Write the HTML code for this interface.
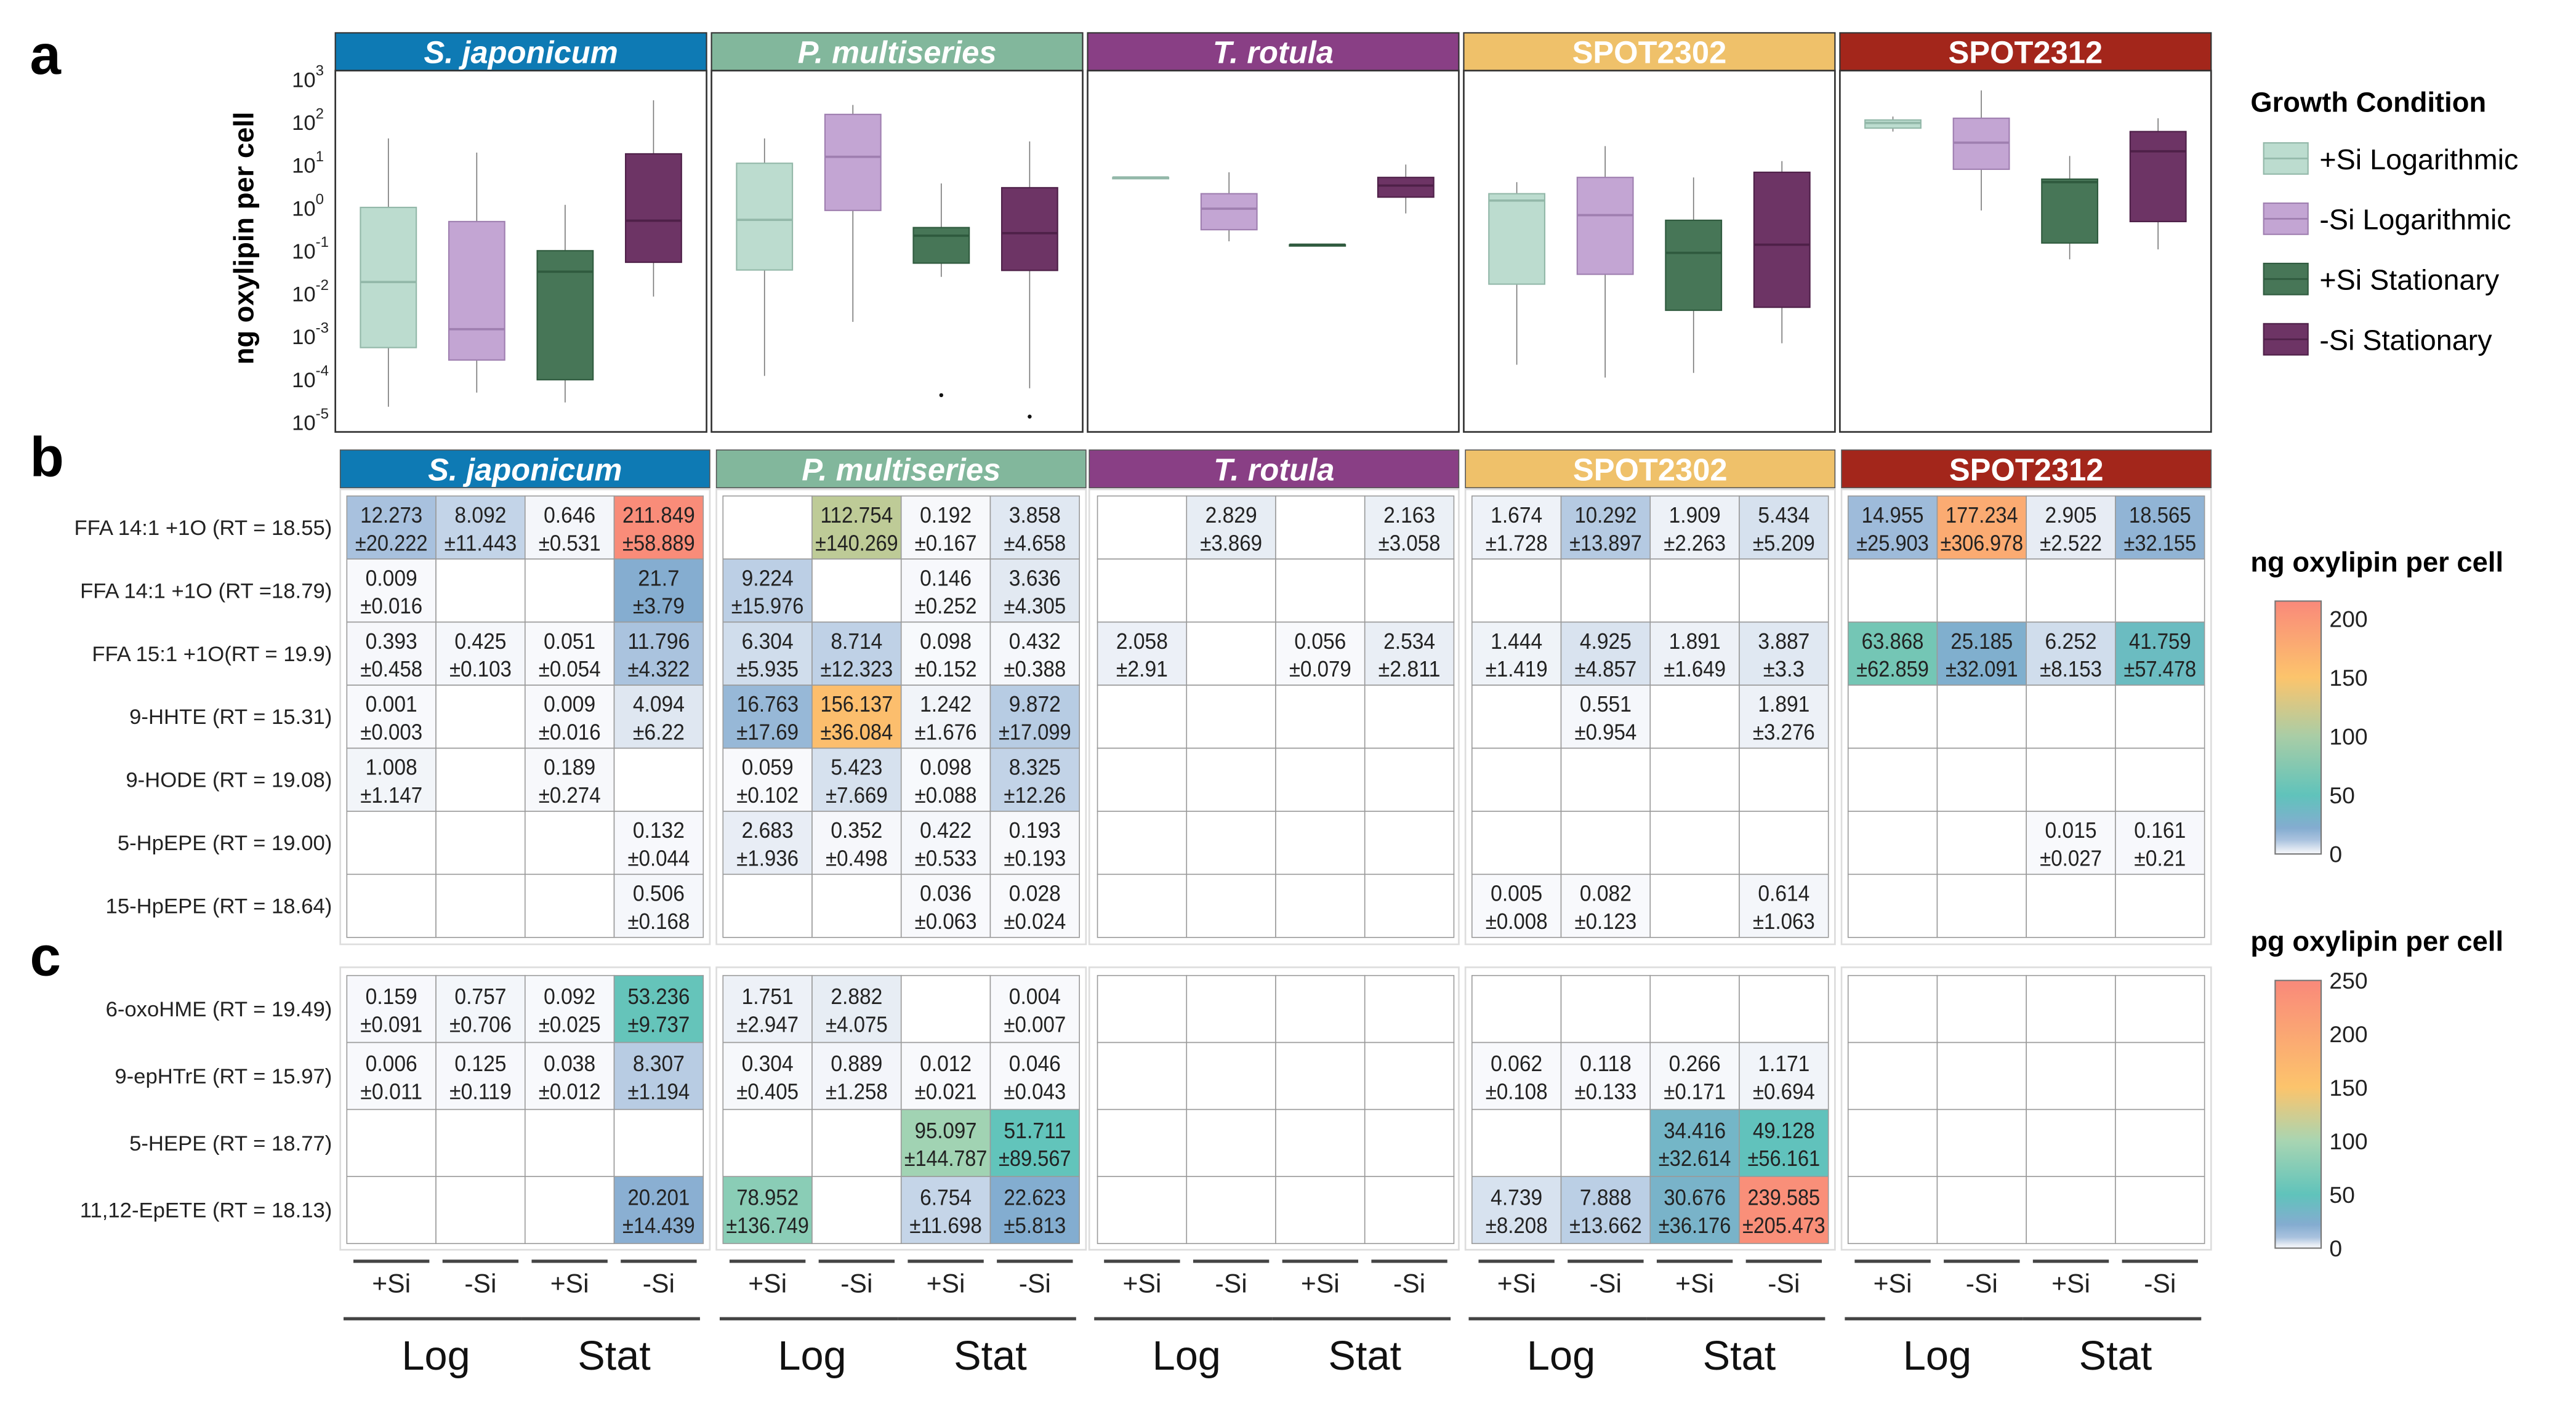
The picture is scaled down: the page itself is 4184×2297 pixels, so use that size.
<!DOCTYPE html>
<html><head><meta charset="utf-8"><style>
html,body{margin:0;padding:0;background:#fff;}
svg{display:block;}
text{font-family:"Liberation Sans",sans-serif;}
</style></head><body>
<svg id="fig" xmlns="http://www.w3.org/2000/svg" width="4184" height="2297" viewBox="0 0 1568 861"></svg>
<script>
// ---------- DATA ----------
const species = ["S. japonicum","P. multiseries","T. rotula","SPOT2302","SPOT2312"];
const speciesItalic = [true,true,true,false,false];
const conditions = ["+Si Logarithmic","-Si Logarithmic","+Si Stationary","-Si Stationary"];
const yTicksLog = [3,2,1,0,-1,-2,-3,-4,-5];
// box stats in log10 units: [lowWhisker, q1, median, q3, highWhisker]
const boxSJ = [[-4.65,-3.27,-1.74,0.0,1.61],[-4.32,-3.56,-2.84,-0.33,1.28],[-4.55,-4.02,-1.50,-1.01,0.06],[-2.08,-1.28,-0.31,1.25,2.50]];
const boxPM = [[-3.93,-1.46,-0.29,1.03,1.61],[-2.67,-0.07,1.18,2.17,2.39],[-1.62,-1.30,-0.66,-0.47,0.56],[-4.22,-1.47,-0.60,0.46,1.54]];
const boxTR = [[0.70,0.70,0.70,0.70,0.70],[-0.79,-0.52,-0.03,0.32,0.82],[-0.87,-0.87,-0.87,-0.87,-0.87],[-0.14,0.24,0.51,0.70,1.0]];
const boxS02 = [[-3.67,-1.79,0.16,0.32,0.59],[-3.97,-1.56,-0.18,0.70,1.43],[-3.86,-2.40,-1.06,-0.30,0.70],[-3.17,-2.33,-0.87,0.82,1.08]];
const boxS12 = [[1.77,1.85,1.97,2.04,2.12],[-0.07,0.89,1.51,2.08,2.73],[-1.21,-0.83,0.59,0.66,1.20],[-0.98,-0.33,1.31,1.77,2.08]];
const outliers = [[1,2,-4.38],[1,3,-4.88]];

const rowsB = ["FFA 14:1 +1O (RT = 18.55)","FFA 14:1 +1O (RT =18.79)","FFA 15:1 +1O(RT = 19.9)","9-HHTE (RT = 15.31)","9-HODE (RT = 19.08)","5-HpEPE (RT = 19.00)","15-HpEPE (RT = 18.64)"];
const meanB = [
 [12.273,8.092,0.646,211.849, null,112.754,0.192,3.858, null,2.829,null,2.163, 1.674,10.292,1.909,5.434, 14.955,177.234,2.905,18.565],
 [0.009,null,null,21.7, 9.224,null,0.146,3.636, null,null,null,null, null,null,null,null, null,null,null,null],
 [0.393,0.425,0.051,11.796, 6.304,8.714,0.098,0.432, 2.058,null,0.056,2.534, 1.444,4.925,1.891,3.887, 63.868,25.185,6.252,41.759],
 [0.001,null,0.009,4.094, 16.763,156.137,1.242,9.872, null,null,null,null, null,0.551,null,1.891, null,null,null,null],
 [1.008,null,0.189,null, 0.059,5.423,0.098,8.325, null,null,null,null, null,null,null,null, null,null,null,null],
 [null,null,null,0.132, 2.683,0.352,0.422,0.193, null,null,null,null, null,null,null,null, null,null,0.015,0.161],
 [null,null,null,0.506, null,null,0.036,0.028, null,null,null,null, 0.005,0.082,null,0.614, null,null,null,null]
];
const sdB = [
 ["20.222","11.443","0.531","58.889", null,"140.269","0.167","4.658", null,"3.869",null,"3.058", "1.728","13.897","2.263","5.209", "25.903","306.978","2.522","32.155"],
 ["0.016",null,null,"3.79", "15.976",null,"0.252","4.305", null,null,null,null, null,null,null,null, null,null,null,null],
 ["0.458","0.103","0.054","4.322", "5.935","12.323","0.152","0.388", "2.91",null,"0.079","2.811", "1.419","4.857","1.649","3.3", "62.859","32.091","8.153","57.478"],
 ["0.003",null,"0.016","6.22", "17.69","36.084","1.676","17.099", null,null,null,null, null,"0.954",null,"3.276", null,null,null,null],
 ["1.147",null,"0.274",null, "0.102","7.669","0.088","12.26", null,null,null,null, null,null,null,null, null,null,null,null],
 [null,null,null,"0.044", "1.936","0.498","0.533","0.193", null,null,null,null, null,null,null,null, null,null,"0.027","0.21"],
 [null,null,null,"0.168", null,null,"0.063","0.024", null,null,null,null, "0.008","0.123",null,"1.063", null,null,null,null]
];
const rowsC = ["6-oxoHME (RT = 19.49)","9-epHTrE (RT = 15.97)","5-HEPE (RT = 18.77)","11,12-EpETE (RT = 18.13)"];
const meanC = [
 [0.159,0.757,0.092,53.236, 1.751,2.882,null,0.004, null,null,null,null, null,null,null,null, null,null,null,null],
 [0.006,0.125,0.038,8.307, 0.304,0.889,0.012,0.046, null,null,null,null, 0.062,0.118,0.266,1.171, null,null,null,null],
 [null,null,null,null, null,null,95.097,51.711, null,null,null,null, null,null,34.416,49.128, null,null,null,null],
 [null,null,null,20.201, 78.952,null,6.754,22.623, null,null,null,null, 4.739,7.888,30.676,239.585, null,null,null,null]
];
const sdC = [
 ["0.091","0.706","0.025","9.737", "2.947","4.075",null,"0.007", null,null,null,null, null,null,null,null, null,null,null,null],
 ["0.011","0.119","0.012","1.194", "0.405","1.258","0.021","0.043", null,null,null,null, "0.108","0.133","0.171","0.694", null,null,null,null],
 [null,null,null,null, null,null,"144.787","89.567", null,null,null,null, null,null,"32.614","56.161", null,null,null,null],
 [null,null,null,"14.439", "136.749",null,"11.698","5.813", null,null,null,null, "8.208","13.662","36.176","205.473", null,null,null,null]
];
const ngTicks = [0,50,100,150,200];
const pgTicks = [0,50,100,150,200,250];
const xTickLabels = ["+Si","-Si","+Si","-Si"];
const phaseLabels = ["Log","Stat"];

// ---------- helpers ----------
const svg = document.getElementById('fig');
const NS = "http://www.w3.org/2000/svg";
function el(tag, attrs, parent){ const e=document.createElementNS(NS,tag); for(const k in attrs) e.setAttribute(k,attrs[k]); (parent||svg).appendChild(e); return e; }
function txt(s, attrs, parent){ const e=el('text',attrs,parent); e.textContent=s; return e; }

const stripColors = ["#0e7ab4","#82b79c","#893f85","#efc16a","#a3261b"];
const boxFill = ["#bcdccf","#c3a5d3","#477657","#6d3465"];
const boxLine = ["#93b8a9","#9f7fb0","#2f5a3e","#4e2048"];

function hex2rgb(h){return [1,3,5].map(i=>parseInt(h.substr(i,2),16));}
function makeScale(stops){ return v=>{ if(v<=stops[0][0]) return stops[0][1];
  for(let i=1;i<stops.length;i++){ if(v<=stops[i][0]){ const t=(v-stops[i-1][0])/(stops[i][0]-stops[i-1][0]); const a=hex2rgb(stops[i-1][1]),b=hex2rgb(stops[i][1]); return 'rgb('+a.map((x,j)=>Math.round(x+(b[j]-x)*t)).join(',')+')'; } }
  return stops[stops.length-1][1]; }; }
const ngStops=[[0,"#f8f9fc"],[3,"#e6ecf4"],[12,"#a9c2de"],[22,"#84acd0"],[50,"#60c3bb"],[100,"#a9cda6"],[150,"#fcc46c"],[215,"#f9897a"]];
const pgStops=[[0,"#f8f9fc"],[3,"#e6ecf4"],[10,"#a9c2de"],[22,"#84acd0"],[50,"#60c3bb"],[100,"#a8d5b2"],[150,"#fcc46c"],[250,"#f9897a"]];
const ngColor=makeScale(ngStops), pgColor=makeScale(pgStops);

// ---------- panel labels ----------
txt('a',{x:18,y:45,'font-size':34,'font-weight':'bold'});
txt('b',{x:18,y:290,'font-size':34,'font-weight':'bold'});
txt('c',{x:18,y:594,'font-size':34,'font-weight':'bold'});

// ---------- panel a ----------
const aPanelsX=[204,433,662,891,1120], aW=226, aTop=43, aBot=263;
const yLog = v => 48+(3-v)*26.1;
const boxes=[boxSJ,boxPM,boxTR,boxS02,boxS12];
const yAxisTitle = txt('ng oxylipin per cell',{x:0,y:0,'font-size':17,'font-weight':'bold','text-anchor':'middle',transform:'translate(154,145) rotate(-90)'});


yTicksLog.forEach(t=>{
  const g=txt('10',{x:192,y:yLog(t)+5,'font-size':13,'text-anchor':'end',fill:'#222'});
  
  
  const s=txt(String(t),{x:192,y:yLog(t)-2,'font-size':9,fill:'#222'});
  
  
});
species.forEach((sp,si)=>{
  const x0=aPanelsX[si];
  const strip=el('rect',{x:x0,y:20,width:aW,height:23,fill:stripColors[si],stroke:'#333','stroke-width':0.8});
  
  
  const st=txt(sp,{x:x0+aW/2,y:38.5,'font-size':19,'font-weight':'bold','font-style':speciesItalic[si]?'italic':'normal',fill:'#fff','text-anchor':'middle'});
  
  
  const fr=el('rect',{x:x0,y:aTop,width:aW,height:aBot-aTop,fill:'#fff',stroke:'#333','stroke-width':1});
  
  
  const xc=i=>x0+(i+1-0.4)/4.2*aW;
  boxes[si].forEach((b,ci)=>{
    const cx=xc(ci), bw=34;
    const wh=el('line',{x1:cx,x2:cx,y1:yLog(b[4]),y2:yLog(b[0]),stroke:'#777','stroke-width':0.6});
    
    
    const r=el('rect',{x:cx-bw/2,y:yLog(b[3]),width:bw,height:Math.max(0.8,yLog(b[1])-yLog(b[3])),fill:boxFill[ci],stroke:boxLine[ci],'stroke-width':0.8});
    
    
    const m=el('line',{x1:cx-bw/2,x2:cx+bw/2,y1:yLog(b[2]),y2:yLog(b[2]),stroke:boxLine[ci],'stroke-width':1.4});
    
    
  });
  outliers.filter(o=>o[0]===si).forEach(o=>{
    const c=el('circle',{cx:xc(o[1]),cy:yLog(o[2]),r:1.2,fill:'#111'});
    
    
  });
});
// legend
txt('Growth Condition',{x:1370,y:68,'font-size':17,'font-weight':'bold'});
conditions.forEach((c,i)=>{
  const y=87+i*36.7;
  const k=el('rect',{x:1378,y:y,width:27,height:19,fill:boxFill[i],stroke:boxLine[i],'stroke-width':0.8});
  
  
  el('line',{x1:1378,x2:1405,y1:y+9.5,y2:y+9.5,stroke:boxLine[i],'stroke-width':1});
  const t=txt(c,{x:1412,y:y+16,'font-size':17.5});
  
  
});

// ---------- heatmaps ----------
const bPanelsX=[207,436,663,892,1121], bW=225;
const gridX=[211,440,668,896,1125], gW=217, cw=gW/4;
species.forEach((sp,si)=>{
  const x0=bPanelsX[si];
  const strip=el('rect',{x:x0,y:274,width:bW,height:23,fill:stripColors[si],stroke:'#555','stroke-width':0.6});
  
  
  const st=txt(sp,{x:x0+bW/2,y:292.5,'font-size':19,'font-weight':'bold','font-style':speciesItalic[si]?'italic':'normal',fill:'#fff','text-anchor':'middle'});
  
  
  el('rect',{x:x0,y:298,width:bW,height:277,fill:'none',stroke:'#ddd','stroke-width':1});
  el('rect',{x:x0,y:589,width:bW,height:172,fill:'none',stroke:'#ddd','stroke-width':1});
});
function cellText(s,x,y,name){
  const w=Math.min(cw-3,s.length*6.3);
  const t=txt(s,{x:x,y:y,'font-size':13.5,'text-anchor':'middle',fill:'#222',textLength:w,lengthAdjust:'spacingAndGlyphs'});
  
  
}
function drawHeat(rows,means,sds,top,rh,colorFn,name){
  rows.forEach((r,ri)=>{
    const lab=txt(r,{x:202,y:top+ri*rh+rh/2+4.5,'font-size':13,'text-anchor':'end',fill:'#222'});
    
    
    for(let c=0;c<20;c++){
      const si=Math.floor(c/4), ci=c%4;
      const x=gridX[si]+ci*cw, y=top+ri*rh;
      const v=means[ri][c];
      const cell=el('rect',{x:x,y:y,width:cw,height:rh,fill:v==null?'#fff':colorFn(v),stroke:'#9a9a9a','stroke-width':0.6});
      
      
      if(v!=null){
        cellText(String(v),x+cw/2,y+rh/2-3,'cell-mean');
        cellText('±'+sds[ri][c],x+cw/2,y+rh/2+14,'cell-sd');
      }
    }
  });
}
drawHeat(rowsB,meanB,sdB,302,38.4,ngColor,'ng-heatmap');
drawHeat(rowsC,meanC,sdC,594,40.8,pgColor,'pg-heatmap');

// bottom axis
species.forEach((sp,si)=>{
  for(let ci=0;ci<4;ci++){
    const x=gridX[si]+ci*cw;
    el('line',{x1:x+4,x2:x+cw-4,y1:768,y2:768,stroke:'#444','stroke-width':2});
    const t=txt(xTickLabels[ci],{x:x+cw/2,y:787,'font-size':16,'text-anchor':'middle',fill:'#222'});
    
    
  }
  for(let p=0;p<2;p++){
    const x=gridX[si]+p*2*cw;
    el('line',{x1:x-2,x2:x+2*cw-2,y1:803,y2:803,stroke:'#444','stroke-width':2});
    const t=txt(phaseLabels[p],{x:x+cw,y:834,'font-size':25,'text-anchor':'middle',fill:'#111'});
    
    
  }
});

// colorbars
const defs=el('defs',{});
function gradient(id,stops,max){
  const g=el('linearGradient',{id:id,x1:0,y1:1,x2:0,y2:0},defs);
  stops.forEach(s=>el('stop',{offset:Math.min(1,s[0]/max),'stop-color':s[1]},g));
}
gradient('ngGrad',ngStops,215);
gradient('pgGrad',pgStops,250);
function colorbar(title,ticks,grad,top,bottom,max){
  const t=txt(title,{x:1370,y:top-18,'font-size':17,'font-weight':'bold'});
  
  
  const r=el('rect',{x:1385,y:top,width:28,height:bottom-top,fill:'url(#'+grad+')',stroke:'#777','stroke-width':0.8});
  
  
  ticks.forEach(v=>{
    const y=bottom-(v/max)*(bottom-top);
    const l=txt(String(v),{x:1418,y:y+5,'font-size':14,fill:'#222'});
    
    
  });
}
colorbar('ng oxylipin per cell',ngTicks,'ngGrad',366,520,215);
colorbar('pg oxylipin per cell',pgTicks,'pgGrad',597,760,250);
</script>
</body></html>
